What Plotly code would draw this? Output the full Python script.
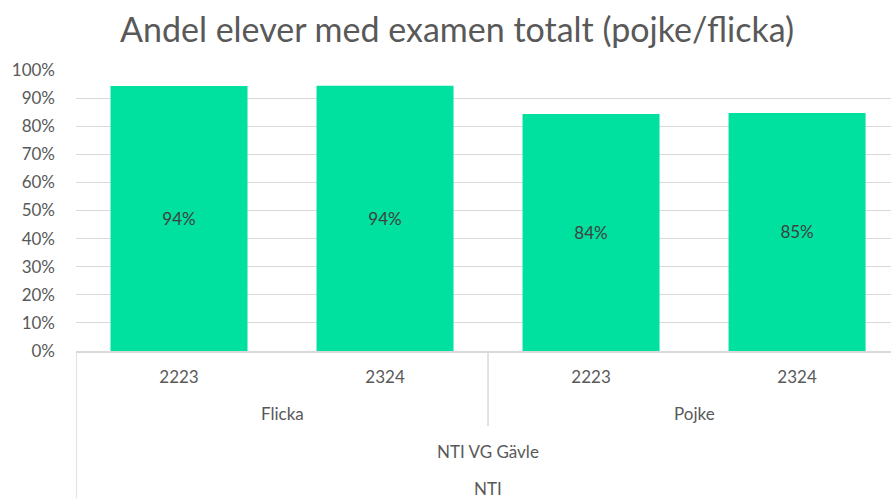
import plotly.graph_objects as go

# data
categories = ["Flicka 2223", "Flicka 2324", "Pojke 2223", "Pojke 2324"]
year_labels = ["2223", "2324", "2223", "2324"]
gender_labels = ["Flicka", "Pojke"]
school_label = "NTI VG Gävle"
org_label = "NTI"
share_exam = [0.943, 0.944, 0.843, 0.847]

FONT = "Century Gothic, Lato, sans-serif"
GREY = "#595959"
LINE = "#d9d9d9"

fig = go.Figure()

fig.add_trace(go.Bar(
    x=categories,
    y=share_exam,
    marker={"color": "#00e09f", "line": {"width": 0}},
    texttemplate="%{y:.0%}",
    textposition="inside",
    insidetextanchor="middle",
    textfont={"family": FONT, "size": 17, "color": "#404040"},
    hoverinfo="skip",
))

# hierarchy labels below the category axis (Excel style multi-level axis)
annotations = []
for i, g in enumerate(gender_labels):
    annotations.append(dict(x=2 * i + 0.5, y=-0.221, text=g))
annotations.append(dict(x=1.5, y=-0.356, text=school_label))
annotations.append(dict(x=1.5, y=-0.488, text=org_label))
for a in annotations:
    a.update(xref="x", yref="paper", showarrow=False,
             font={"family": FONT, "size": 17, "color": GREY},
             xanchor="center", yanchor="middle")

shapes = [
    # left border of the axis block
    dict(type="line", xref="x", yref="paper", x0=-0.5, x1=-0.5, y0=0, y1=-0.53,
         line={"color": LINE, "width": 1.5}),
    # divider between Flicka and Pojke
    dict(type="line", xref="x", yref="paper", x0=1.5, x1=1.5, y0=0, y1=-0.267,
         line={"color": LINE, "width": 1.5}),
]

fig.update_layout(
    width=891,
    height=498,
    margin={"l": 76, "r": 0, "t": 70, "b": 147, "autoexpand": False},
    paper_bgcolor="white",
    plot_bgcolor="white",
    showlegend=False,
    bargap=0.335,
    title={
        "text": "Andel elever med examen totalt (pojke/flicka)",
        "x": 0.513, "xanchor": "center",
        "y": 0.94, "yanchor": "middle",
        "font": {"family": FONT, "size": 34, "color": GREY},
    },
    xaxis={
        "type": "category",
        "range": [-0.5, 3.456],
        "tickmode": "array",
        "tickvals": categories,
        "ticktext": year_labels,
        "tickfont": {"family": FONT, "size": 17, "color": GREY},
        "ticklabelstandoff": 10,
        "showgrid": False,
        "showline": True,
        "linecolor": LINE,
        "linewidth": 1.5,
        "ticks": "",
    },
    yaxis={
        "range": [0, 1],
        "dtick": 0.1,
        "tickformat": ".0%",
        "tickfont": {"family": FONT, "size": 17, "color": GREY},
        "gridcolor": LINE,
        "gridwidth": 1.2,
        "zeroline": False,
        "ticks": "",
        "ticklabelstandoff": 20,
    },
    annotations=annotations,
    shapes=shapes,
)

fig.write_html("out.html", config={"displayModeBar": False},
               post_script="document.body.style.margin = '0';")
